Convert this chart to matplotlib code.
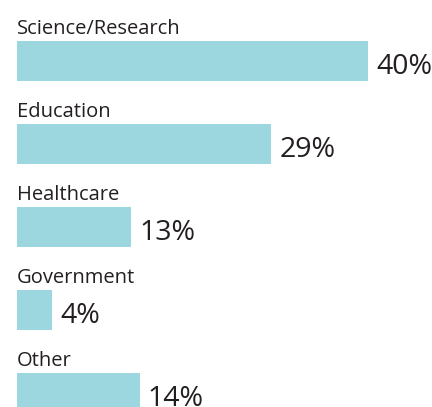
import matplotlib.pyplot as plt

categories = ["Science/Research", "Education", "Healthcare", "Government", "Other"]
shares = [40, 29, 13, 4, 14]
value_labels = ["40%", "29%", "13%", "4%", "14%"]

bar_color = "#9cd7df"
text_color = "#231f20"

fig = plt.figure(figsize=(4.32, 4.07), dpi=100)
ax = fig.add_axes([0, 0, 1, 1])

px_per_pct = 351 / 40.0
px_per_row = 83.0
ys = list(range(len(categories)))

ax.barh(ys, shares, height=40 / px_per_row, left=0, color=bar_color, edgecolor="none")

for y, name, val, lab in zip(ys, categories, shares, value_labels):
    ax.text(0, y - 32 / px_per_row, name, ha="left", va="center",
            fontsize=14.5, color=text_color, family="Open Sans")
    ax.text(val + 8 / px_per_pct, y + 6 / px_per_row, lab, ha="left", va="center",
            fontsize=20.5, color=text_color, family="Open Sans")

ax.set_xlim(-17 / px_per_pct, (432 - 17) / px_per_pct)
ax.set_ylim((407 - 61) / px_per_row, -61 / px_per_row)
ax.axis("off")

fig.savefig("out.png", dpi=100)
